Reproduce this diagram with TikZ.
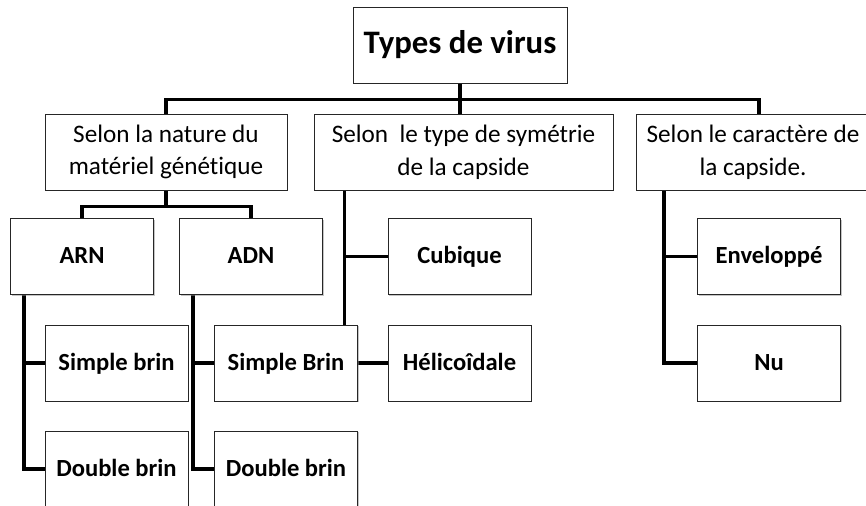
\documentclass[tikz,border=0pt]{standalone}
\usepackage{fontspec}
\setmainfont{Carlito}[Ligatures=NoCommon]
\usetikzlibrary{backgrounds,shadows}

\begin{document}
\begin{tikzpicture}[x=0.03cm,y=-0.03cm,
  frame/.style={draw=black!85,line width=0.8pt,fill=white,minimum height=2.28cm,inner sep=0pt,align=center,drop shadow={shadow xshift=0.9pt,shadow yshift=-0.9pt,fill=black!45}},
  box/.style={frame,minimum width=4.29cm,text height=16pt,text depth=4pt,font=\fontsize{21}{26}\selectfont\bfseries},
  headbox/.style={frame,font=\fontsize{21.5}{28}\selectfont},
  link/.style={line width=3.2pt}]
\useasboundingbox (0,0) rectangle (866,506);
\node[frame,minimum width=6.42cm,font=\fontsize{28}{34}\selectfont\bfseries] (root) at (460,45) {Types de virus};
\node[headbox,minimum width=7.26cm] (natu) at (166,152) {Selon la nature du\\matériel génétique};
\node[headbox,minimum width=8.97cm] (symt) at (463.5,152) {Selon\ \ le type de symétrie\\de la capside};
\node[headbox,minimum width=7.0cm] (capsd) at (753,152) {Selon le caractère de\\la capside.};
\node[box] (arn) at (82,256.5) {ARN};
\node[box] (adn) at (251,256.5) {ADN};
\node[box] (cub) at (459.5,256.5) {Cubique};
\node[box] (env) at (769,256.5) {Enveloppé};
\node[box] (sba) at (116.5,363) {Simple brin};
\node[box] (sbd) at (286,363) {Simple Brin};
\node[box] (heli) at (459.5,363) {Hélicoîdale};
\node[box] (nu) at (769,363) {Nu};
\node[box] (dba) at (116.5,469) {Double brin};
\node[box] (dbd) at (286,469) {Double brin};
\begin{scope}[on background layer]
\draw[link] (root.south) -- ++(0,16) -| (natu.north);
\draw[link] (root.south) -- ++(0,16) -| ([xshift=0.18cm]capsd.north);
\draw[link] (root.south) -- (root.south |- symt.north);
\draw[link] (natu.south) -- ++(0,16) -| (arn.north);
\draw[link] (natu.south) -- ++(0,16) -| (adn.north);
\draw[link] ([xshift=0.42cm]arn.south west) |- (sba.west);
\draw[link] ([xshift=0.42cm]arn.south west) |- (dba.west);
\draw[link] ([xshift=0.42cm]adn.south west) |- (sbd.west);
\draw[link] ([xshift=0.42cm]adn.south west) |- (dbd.west);
\draw[link] ([xshift=0.93cm]symt.south west) |- (cub.west);
\draw[link] ([xshift=0.93cm]symt.south west) |- (heli.west);
\draw[link] ([xshift=0.84cm]capsd.south west) |- (env.west);
\draw[link] ([xshift=0.84cm]capsd.south west) |- (nu.west);
\end{scope}
\end{tikzpicture}
\end{document}
